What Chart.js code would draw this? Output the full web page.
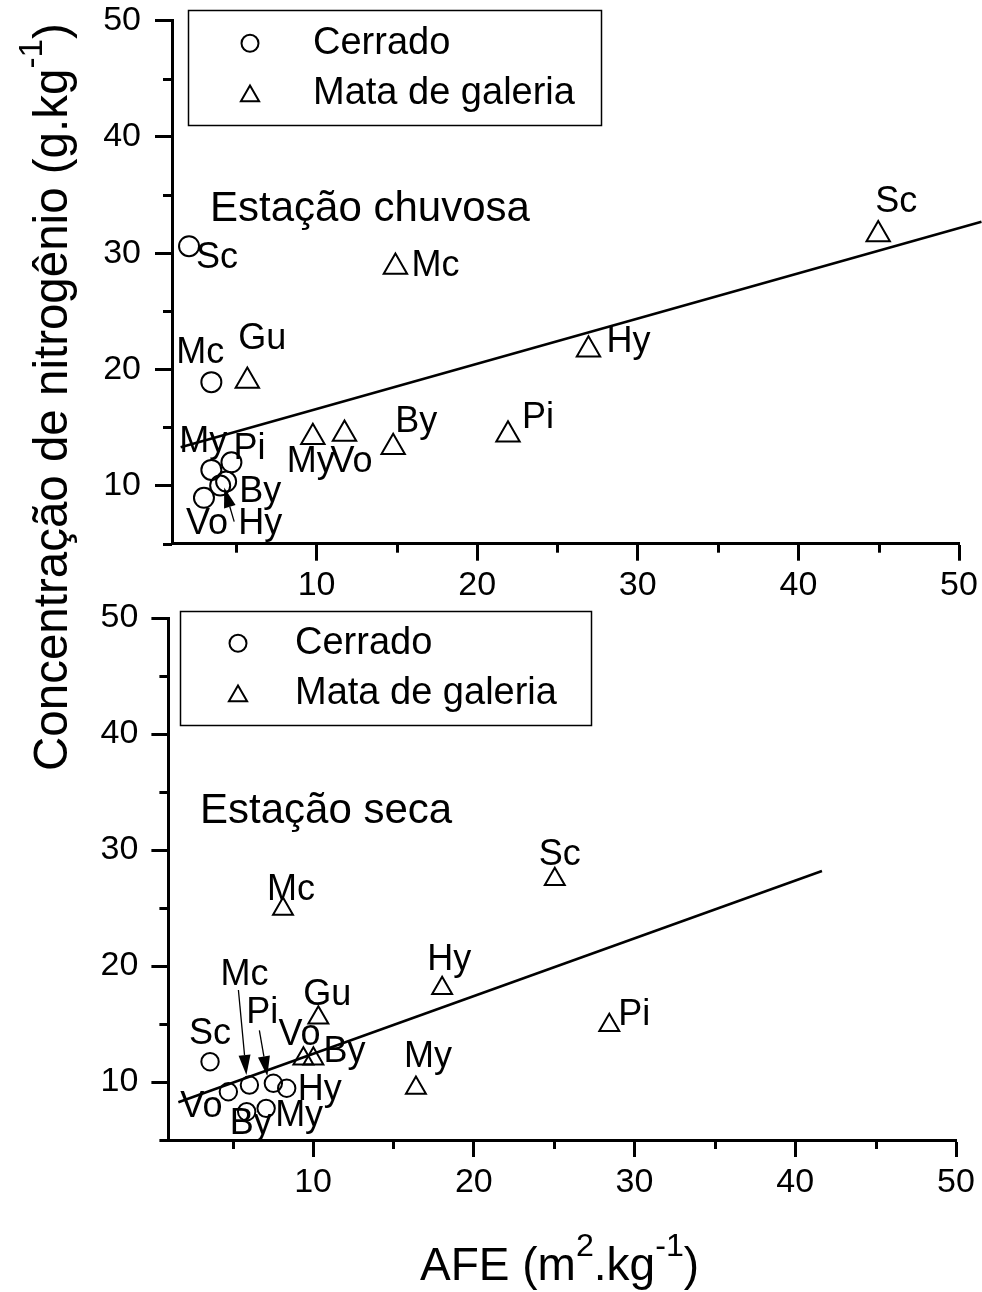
<!DOCTYPE html>
<html>
<head>
<meta charset="utf-8">
<script src="https://cdn.jsdelivr.net/npm/chart.js@4.4.0/dist/chart.umd.min.js"></script>
<style>
  html, body { margin: 0; padding: 0; background: #fff; }
  #page { position: relative; width: 982px; height: 1292px; overflow: hidden; }
  canvas { position: absolute; left: 0; top: 0; }
  .title { position: absolute; white-space: nowrap; font-family: 'Liberation Sans', Arial, sans-serif;
           font-size: 46px; line-height: 1; color: #000; }
  .title sup { font-size: 0.7em; vertical-align: baseline; position: relative; top: -0.75em; }
  #ytitle { left: 27px; top: 771px; font-size: 47.5px; transform-origin: 0 0; transform: rotate(-90deg); }
  #xtitle { left: 420px; top: 1241px; }
</style>
</head>
<body>
<div id="page">
  <canvas id="rain" width="982" height="1292"></canvas>
  <canvas id="dry" width="982" height="1292"></canvas>
  <div class="title" id="ytitle">Concentração de nitrogênio (g.kg<sup>-1</sup>)</div>
  <div class="title" id="xtitle">AFE (m<sup>2</sup>.kg<sup>-1</sup>)</div>
</div>
<script>
// ---- data ----
var xTicks = [10, 20, 30, 40, 50];
var yTicks = [10, 20, 30, 40, 50];
var minorTicks = [5, 15, 25, 35, 45];

// Estação chuvosa
var rainCerradoNames = ["Sc", "Mc", "My", "Pi", "By", "Hy", "Vo"];
var rainCerradoAFE   = [2.06, 3.45, 3.45, 4.70, 4.37, 4.00, 2.99];
var rainCerradoN     = [30.6, 18.9, 11.35, 12.0, 10.35, 10.0, 8.95];
var rainMataNames = ["Sc", "Mc", "Gu", "My", "Vo", "By", "Pi", "Hy"];
var rainMataAFE   = [44.97, 14.91, 5.69, 9.77, 11.74, 14.77, 21.92, 26.93];
var rainMataN     = [31.6, 28.8, 19.0, 14.16, 14.44, 13.29, 14.38, 21.68];
var rainFitAFE = [1.54, 51.4];
var rainFitN   = [13.3, 32.7];

// Estação seca
var dryCerradoNames = ["Sc", "Vo", "Mc", "Pi", "Hy", "By", "My"];
var dryCerradoAFE   = [3.59, 4.73, 6.04, 7.53, 8.36, 5.87, 7.08];
var dryCerradoN     = [11.75, 9.16, 9.74, 9.89, 9.46, 7.44, 7.73];
var dryMataNames = ["Mc", "Sc", "Hy", "Pi", "My", "Gu", "Vo", "By"];
var dryMataAFE   = [8.13, 25.04, 18.03, 28.43, 16.4, 10.33, 9.4, 10.02];
var dryMataN     = [24.92, 27.48, 18.09, 14.9, 9.49, 15.53, 12.0, 12.0];
var dryFitAFE = [1.62, 41.66];
var dryFitN   = [8.25, 28.19];

// ---- label placement (pixels from the point) ----
var rainCerradoOffsets = [[7, 22], [-35, -19], [-32, -18], [2, -3], [13, 20], [18, 48], [-18, 36]];
var rainMataOffsets = [[-3, -23], [16, 9], [-9, -32], [-26, 35], [-14, 38], [2, -15], [14, -7], [18, 2]];
var dryCerradoOffsets = [[-21, -18], [-48, 25], [-29, -100], [-27, -60], [11, 12], [-17, 22], [9, 18]];
var dryMataOffsets = [[-16, -9], [-16, -14], [-15, -18], [9, 0], [-12, -21], [-15, -13], [-25, -14], [10, 3]];

var FONT = "'Liberation Sans', Arial, sans-serif";
Chart.defaults.font.family = FONT;
Chart.defaults.color = "#000";

function pts(xs, ys) {
  return xs.map(function (x, i) { return { x: x, y: ys[i] }; });
}

function drawArrow(ctx, x1, y1, x2, y2) {
  var a = Math.atan2(y2 - y1, x2 - x1), L = 20, W = 6;
  ctx.beginPath();
  ctx.moveTo(x1, y1);
  ctx.lineTo(x2 - L * Math.cos(a), y2 - L * Math.sin(a));
  ctx.lineWidth = 1.3;
  ctx.stroke();
  ctx.beginPath();
  ctx.moveTo(x2, y2);
  ctx.lineTo(x2 - L * Math.cos(a) + W * Math.sin(a), y2 - L * Math.sin(a) - W * Math.cos(a));
  ctx.lineTo(x2 - L * Math.cos(a) - W * Math.sin(a), y2 - L * Math.sin(a) + W * Math.cos(a));
  ctx.closePath();
  ctx.fill();
}

function triPath(ctx, x, y, r) {
  var rad = 0;
  ctx.beginPath();
  for (var k = 0; k < 3; k++) {
    var px = x + Math.sin(rad) * r, py = y - Math.cos(rad) * r;
    if (k === 0) ctx.moveTo(px, py); else ctx.lineTo(px, py);
    rad += 2 * Math.PI / 3;
  }
  ctx.closePath();
}

// draws minor ticks, point names, arrows, season text and the boxed legend
function makeDecor(cfg) {
  return {
    id: "decor",
    afterDatasetsDraw: function (chart) {
      var ctx = chart.ctx, xs = chart.scales.x, ys = chart.scales.y;
      ctx.save();
      ctx.strokeStyle = "#000";
      ctx.fillStyle = "#000";
      ctx.lineWidth = 3;
      minorTicks.forEach(function (v) {
        var px = Math.round(xs.getPixelForValue(v)) + 0.5;
        ctx.beginPath(); ctx.moveTo(px, ys.bottom); ctx.lineTo(px, ys.bottom + 9); ctx.stroke();
        var py = Math.round(ys.getPixelForValue(v)) + 0.5;
        ctx.beginPath(); ctx.moveTo(xs.left, py); ctx.lineTo(xs.left - 9, py); ctx.stroke();
      });

      ctx.font = "36px " + FONT;
      ctx.textAlign = "left";
      ctx.textBaseline = "alphabetic";
      [0, 1].forEach(function (di) {
        var meta = chart.getDatasetMeta(di);
        meta.data.forEach(function (el, j) {
          var off = cfg.offsets[di][j];
          ctx.fillText(cfg.names[di][j], el.x + off[0], el.y + off[1]);
        });
      });

      cfg.arrows.forEach(function (a) {
        var el = chart.getDatasetMeta(a[0]).data[a[1]];
        drawArrow(ctx, el.x + a[2], el.y + a[3], el.x + a[4], el.y + a[5]);
      });

      ctx.font = "42px " + FONT;
      ctx.fillText(cfg.season, cfg.seasonPos[0], cfg.seasonPos[1]);

      var lg = cfg.legend;
      ctx.lineWidth = 1.5;
      ctx.strokeRect(lg.box[0], lg.box[1], lg.box[2] - lg.box[0], lg.box[3] - lg.box[1]);
      ctx.lineWidth = 2;
      ctx.beginPath(); ctx.arc(lg.symX, lg.rows[0], 8.5, 0, 2 * Math.PI); ctx.stroke();
      triPath(ctx, lg.symX, lg.rows[1] + 2.7, 10.5); ctx.stroke();
      ctx.font = "38px " + FONT;
      ctx.textBaseline = "middle";
      ctx.fillText("Cerrado", lg.textX, lg.rows[0]);
      ctx.fillText("Mata de galeria", lg.textX, lg.rows[1]);
      ctx.restore();
    }
  };
}

function makePanel(id, p) {
  return new Chart(document.getElementById(id), {
    type: "scatter",
    data: {
      datasets: [
        { label: "Cerrado", data: pts(p.cerX, p.cerY), pointStyle: "circle", pointRadius: p.circleR,
          borderColor: "#000", backgroundColor: "rgba(0,0,0,0)", pointBorderWidth: 2 },
        { label: "Mata de galeria", data: pts(p.mataX, p.mataY), pointStyle: "triangle", pointRadius: p.triR,
          borderColor: "#000", backgroundColor: "rgba(0,0,0,0)", pointBorderWidth: 2 },
        { label: "fit", data: pts(p.fitX, p.fitY), showLine: true, pointRadius: 0,
          borderColor: "#000", borderWidth: 2.5, clip: false }
      ]
    },
    options: {
      responsive: false,
      animation: false,
      events: [],
      layout: { padding: p.padding },
      plugins: { legend: { display: false }, tooltip: { enabled: false } },
      scales: {
        x: {
          type: "linear", min: 1, max: 50,
          afterBuildTicks: function (s) { s.ticks = xTicks.map(function (v) { return { value: v }; }); },
          afterFit: function (s) { s.height = p.xHeight; s.paddingLeft = 0; s.paddingRight = 0; },
          grid: { drawOnChartArea: false, drawTicks: true, tickLength: 17, tickWidth: 3, tickColor: "#000" },
          border: { display: true, color: "#000", width: 3 },
          ticks: { color: "#000", font: { size: 34 }, padding: 5, maxRotation: 0 }
        },
        y: {
          type: "linear", min: 5, max: 50,
          afterBuildTicks: function (s) { s.ticks = yTicks.map(function (v) { return { value: v }; }); },
          afterFit: function (s) { s.width = p.yWidth; s.paddingTop = 0; s.paddingBottom = 0; },
          grid: { drawOnChartArea: false, drawTicks: true, tickLength: 17, tickWidth: 3, tickColor: "#000" },
          border: { display: true, color: "#000", width: 3 },
          ticks: { color: "#000", font: { size: 34 }, padding: p.yPad }
        }
      }
    },
    plugins: [makeDecor(p.decor)]
  });
}

makePanel("rain", {
  cerX: rainCerradoAFE, cerY: rainCerradoN, mataX: rainMataAFE, mataY: rainMataN,
  fitX: rainFitAFE, fitY: rainFitN, circleR: 10, triR: 13.5,
  padding: { left: 0, top: 20.7, right: 23, bottom: 692 }, xHeight: 56.3, yWidth: 172, yPad: 14,
  decor: {
    names: [rainCerradoNames, rainMataNames],
    offsets: [rainCerradoOffsets, rainMataOffsets],
    arrows: [[0, 5, 14, 36, 4, 2]],
    season: "Estação chuvosa", seasonPos: [210, 221],
    legend: { box: [188.5, 10.5, 601.5, 125.5], symX: 250, rows: [43.3, 93.3], textX: 313 }
  }
});

makePanel("dry", {
  cerX: dryCerradoAFE, cerY: dryCerradoN, mataX: dryMataAFE, mataY: dryMataN,
  fitX: dryFitAFE, fitY: dryFitN, circleR: 8.7, triR: 11.5,
  padding: { left: 0, top: 618, right: 26, bottom: 92 }, xHeight: 60, yWidth: 168.4, yPad: 13,
  decor: {
    names: [dryCerradoNames, dryMataNames],
    offsets: [dryCerradoOffsets, dryMataOffsets],
    arrows: [[0, 2, -11, -95, -3, -10], [0, 3, -14, -53, -6, -7]],
    season: "Estação seca", seasonPos: [200, 823],
    legend: { box: [180.5, 611.5, 591.5, 725.5], symX: 238, rows: [643.3, 693.3], textX: 295 }
  }
});
</script>
</body>
</html>
